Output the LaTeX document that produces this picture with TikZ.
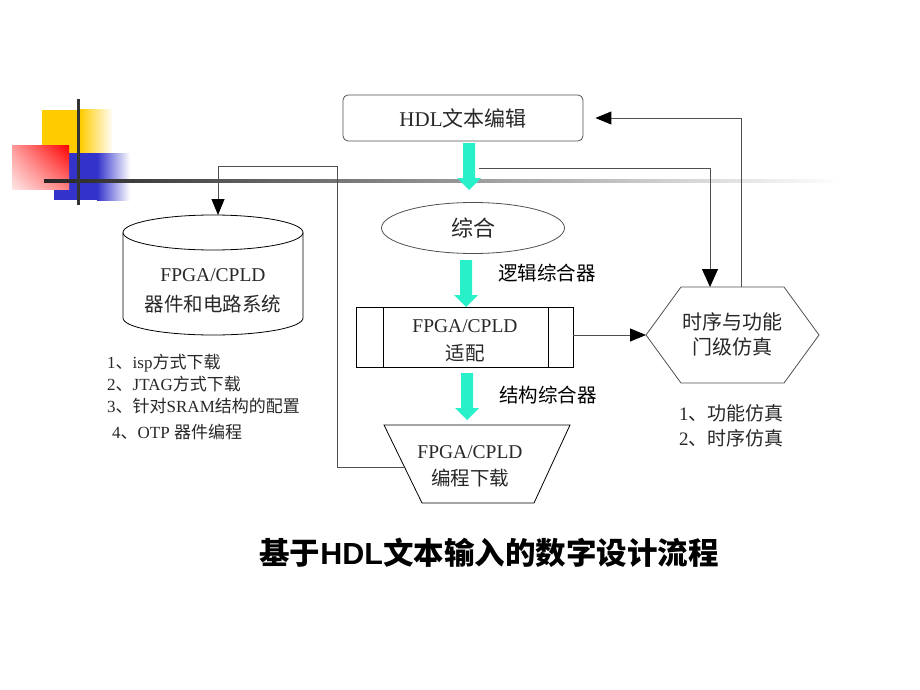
\documentclass[tikz,border=0pt]{standalone}
\usepackage{fontspec}
\setmainfont{Liberation Serif}
\newfontfamily\cjk{Noto Sans CJK SC}
\newfontfamily\hei{Liberation Sans}
\usetikzlibrary{arrows.meta,shapes.geometric,shadings}
\newcommand{\zh}[1]{{\cjk #1}}
\newcommand{\fsz}[2]{\fontsize{#1}{#2}\selectfont}
\definecolor{flowcyan}{RGB}{40,240,200}
\definecolor{linegray}{RGB}{80,80,80}
\definecolor{ylw}{RGB}{255,204,0}
\definecolor{blu}{RGB}{51,51,204}
\definecolor{txtgray}{RGB}{40,40,40}
\newcommand{\cyanarrow}[3]{%
  \fill[flowcyan] (#1-6,#2) -- (#1+6,#2) -- (#1+6,#3-12) -- (#1+12,#3-12) -- (#1,#3) -- (#1-12,#3-12) -- (#1-6,#3-12) -- cycle;}
\begin{document}
\begin{tikzpicture}[x=1pt,y=-1pt,
  txt/.style={text=txtgray, align=center, inner sep=0pt},
  conn/.style={draw=linegray, line width=0.9pt, -{Triangle[width=13pt,length=16pt,color=black]}},
  bigconn/.style={draw=linegray, line width=0.9pt, -{Triangle[width=16pt,length=18pt,color=black]}},
  shapeline/.style={draw=linegray, line width=0.8pt}]
\useasboundingbox (0,0) rectangle (920,690);
\fill[white] (0,0) rectangle (920,690);
% decoration
\fill[ylw] (42,110) rectangle (80,153);
\shade[left color=ylw, right color=white] (80,110) rectangle (113,153);
\fill[blu] (54,153) rectangle (97,200);
\shade[left color=blu, right color=white] (97,153) rectangle (130,200);
\shade[upper right=red, lower left=red!10, upper left=red!40, lower right=red!50] (12,145) rectangle (69,189);
\shade[left color=black!85, right color=white] (44,179.5) rectangle (840,182.5);
\fill[black!80] (76.5,99) rectangle (79.5,205);
% HDL box
\node[txt, draw=linegray, line width=0.8pt, rounded corners=5pt, minimum width=240pt, minimum height=46pt, font=\fsz{21}{24}] (hdl) at (463,118) {HDL\zh{文本编辑}};
\cyanarrow{469}{143}{190}
% synthesis ellipse
\node[txt, ellipse, draw=linegray, line width=0.8pt, minimum width=183pt, minimum height=51pt, font=\fsz{22}{24}] (syn) at (473,228) {\zh{综合}};
\cyanarrow{466}{260}{307}
\node[txt, anchor=west, text=black, font=\fsz{19.5}{22}] (lbl1) at (498,273) {\zh{逻辑综合器}};
% fitting box
\node[draw=black, line width=0.8pt, minimum width=217pt, minimum height=60pt, inner sep=0pt] (fit) at (464.5,337) {};
\draw[line width=0.8pt] (383,307) -- (383,367) (548,307) -- (548,367);
\node[txt, font=\fsz{19.5}{28}] (fittxt) at (465,341) {FPGA/CPLD\\\zh{适配}};
\cyanarrow{467}{373}{420}
\node[txt, anchor=west, text=black, font=\fsz{19.5}{22}] (lbl2) at (499,395) {\zh{结构综合器}};
% programming trapezoid
\draw[line width=0.8pt] (384,425) -- (570,425) -- (534,503) -- (422,503) -- cycle;
\node[txt, font=\fsz{19.5}{27}] (prog) at (470,466) {FPGA/CPLD\\\zh{编程下载}};
\coordinate (progleft) at (404,467);
% cylinder
\draw[line width=0.8pt] (213,232.5) ellipse [x radius=90, y radius=17.5];
\draw[line width=0.8pt] (123,232.5) -- (123,318) .. controls (123,327.4) and (163.3,335) .. (213,335) .. controls (262.7,335) and (303,327.4) .. (303,318) -- (303,232.5);
\node[txt, font=\fsz{19.5}{30}] (dev) at (213,291) {FPGA/CPLD\\\zh{器件和电路系统}};
\coordinate (devtop) at (218,215);
% hexagon
\draw[shapeline] (646,335) -- (681,287) -- (784,287) -- (819,335) -- (784,383) -- (681,383) -- cycle;
\node[txt, font=\fsz{20}{25}] (sim) at (732,334.5) {\zh{时序与功能}\\\zh{门级仿真}};
\coordinate (simwest) at (646,335);
\coordinate (simtopin) at (710,287);
\coordinate (simtopout) at (741,287);
% lists
\node[txt, anchor=west, font=\fsz{17}{20}] (l1) at (107,363) {1\zh{、}isp\zh{方式下载}};
\node[txt, anchor=west, font=\fsz{17}{20}] (l2) at (107,384) {2\zh{、}JTAG\zh{方式下载}};
\node[txt, anchor=west, font=\fsz{17}{20}] (l3) at (107,406) {3\zh{、针对}SRAM\zh{结构的配置}};
\node[txt, anchor=west, font=\fsz{17}{20}] (l4) at (112,432) {4\zh{、}OTP \zh{器件编程}};
\node[txt, anchor=west, font=\fsz{19}{22}] (r1) at (679,413) {1\zh{、功能仿真}};
\node[txt, anchor=west, font=\fsz{19}{22}] (r2) at (679,438) {2\zh{、时序仿真}};
% connectors
\coordinate (c1) at (479,168);
\draw[bigconn] (c1) -| (simtopin);
\draw[conn, shorten >=12pt] (simtopout) |- (hdl.east);
\draw[conn] (fit.east |- simwest) -- (simwest);
\draw[conn] (progleft) -| (337,166) -| (devtop);
% title
\node[inner sep=0pt, text=black, font=\fsz{30.5}{34}\bfseries] (title) at (489,553) {\zh{基于}{\hei\bfseries HDL}\zh{文本输入的数字设计流程}};
\end{tikzpicture}
\end{document}
